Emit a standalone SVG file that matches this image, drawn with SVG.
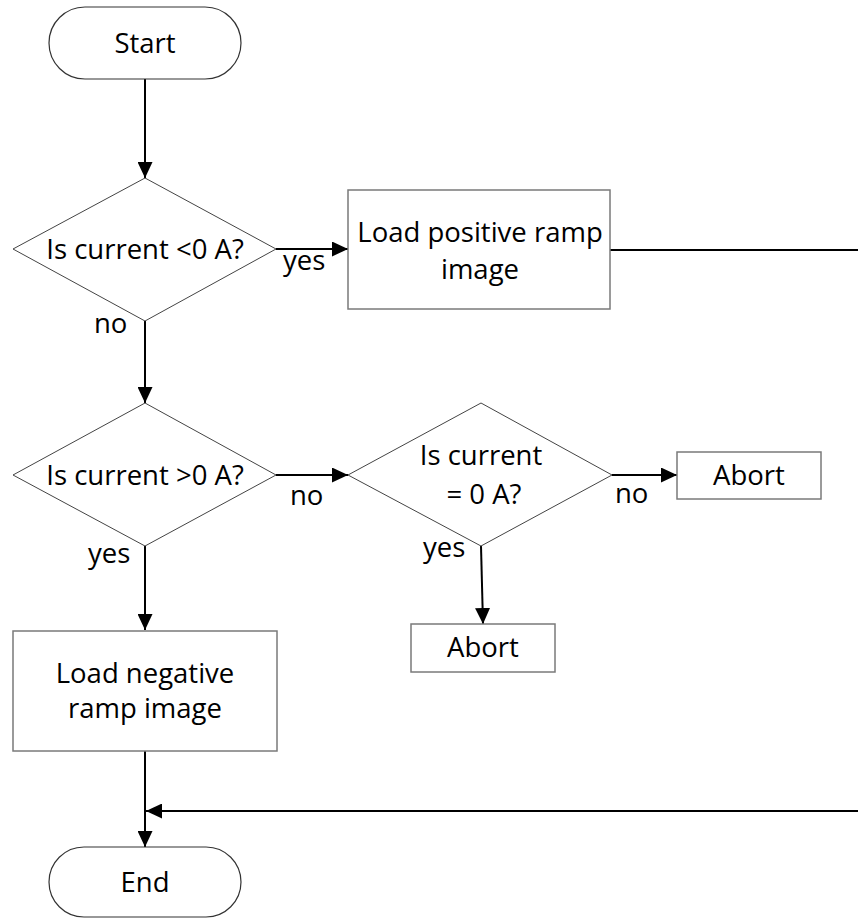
<svg xmlns="http://www.w3.org/2000/svg" width="858" height="918" viewBox="0 0 858 918">
<defs>
<style>
.t{font-family:"Open Sans","Liberation Sans",sans-serif;font-size:27.5px;fill:#000;text-anchor:middle}
.l{font-family:"Open Sans","Liberation Sans",sans-serif;font-size:27.5px;fill:#000}
.term{fill:#fff;stroke:#333;stroke-width:1.2}
.box{fill:#fff;stroke:#7a7a7a;stroke-width:1.5}
.dec{fill:#fff;stroke:#444;stroke-width:1}
.c{fill:none;stroke:#000;stroke-width:2}
</style>
<marker id="ah" markerUnits="userSpaceOnUse" markerWidth="17" markerHeight="15" refX="16" refY="7.5" orient="auto">
<path d="M0,0 L16,7.5 L0,15 Z" fill="#000"/>
</marker>
</defs>
<rect width="858" height="918" fill="#fff"/>
<g id="connectors">
<line class="c" x1="145" y1="79" x2="145" y2="178" marker-end="url(#ah)"/>
<line class="c" x1="276" y1="249" x2="348" y2="249" marker-end="url(#ah)"/>
<line class="c" x1="610" y1="250" x2="858" y2="250"/>
<line class="c" x1="145" y1="321" x2="145" y2="403" marker-end="url(#ah)"/>
<line class="c" x1="276" y1="475" x2="348" y2="475" marker-end="url(#ah)"/>
<line class="c" x1="612" y1="475" x2="677" y2="475" marker-end="url(#ah)"/>
<line class="c" x1="481" y1="546" x2="483" y2="624" marker-end="url(#ah)"/>
<line class="c" x1="145" y1="546" x2="145" y2="630" marker-end="url(#ah)"/>
<line class="c" x1="145" y1="751" x2="145" y2="847" marker-end="url(#ah)"/>
<line class="c" x1="858" y1="811" x2="146" y2="811" marker-end="url(#ah)"/>
<text class="l" x="283" y="270">yes</text>
<text class="l" x="94" y="333">no</text>
<text class="l" x="290" y="505">no</text>
<text class="l" x="88" y="563">yes</text>
<text class="l" x="615" y="503">no</text>
<text class="l" x="423" y="557">yes</text>
</g>
<g id="start">
<rect class="term" x="49" y="7" width="192" height="72" rx="36"/>
<text class="t" x="145" y="53">Start</text>
</g>
<g id="dec1">
<polygon class="dec" points="13,249 145,178 276,249 145,321"/>
<text class="t" x="145" y="259">Is current &lt;0 A?</text>
</g>
<g id="posramp">
<rect class="box" x="348" y="190" width="262" height="119"/>
<text class="t" x="480" y="242">Load positive ramp</text>
<text class="t" x="480" y="279">image</text>
</g>
<g id="dec2">
<polygon class="dec" points="13,475 145,403 276,475 145,546"/>
<text class="t" x="145" y="485">Is current &gt;0 A?</text>
</g>
<g id="dec3">
<polygon class="dec" points="348,475 481,403 612,475 481,546"/>
<text class="t" x="481" y="465">Is current</text>
<text class="t" x="484" y="504">= 0 A?</text>
</g>
<g id="abort1">
<rect class="box" x="677" y="452" width="144" height="47"/>
<text class="t" x="749" y="485">Abort</text>
</g>
<g id="abort2">
<rect class="box" x="411" y="624" width="144" height="48"/>
<text class="t" x="483" y="657">Abort</text>
</g>
<g id="negramp">
<rect class="box" x="13" y="631" width="264" height="120"/>
<text class="t" x="145" y="683">Load negative</text>
<text class="t" x="145" y="718">ramp image</text>
</g>
<g id="end">
<rect class="term" x="49" y="847" width="192" height="70" rx="35"/>
<text class="t" x="145" y="892">End</text>
</g>
</svg>
